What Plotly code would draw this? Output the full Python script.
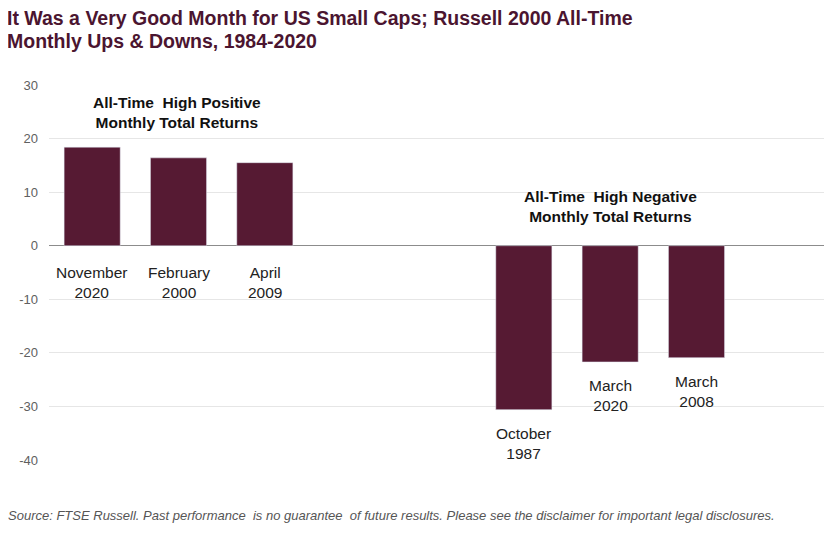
import plotly.graph_objects as go

categories = ["November<br>2020", "February<br>2000", "April<br>2009", " ", "  ",
              "October<br>1987", "March<br>2020", "March<br>2008", "   "]
returns = [18.4, 16.4, 15.5, None, None, -30.6, -21.7, -20.9, None]
y_ticks = [-40, -30, -20, -10, 0, 10, 20, 30]
title_lines = ["It Was a Very Good Month for US Small Caps; Russell 2000 All-Time",
               "Monthly Ups &amp; Downs, 1984-2020"]
source_note = "Source: FTSE Russell. Past performance  is no guarantee  of future results. Please see the disclaimer for important legal disclosures."

BAR = "#561a33"
TITLE = "#4b1530"
FONT = "Liberation Sans, Arial, sans-serif"

fig = go.Figure()
fig.add_trace(go.Bar(x=categories, y=returns, marker_color=BAR, width=0.65,
                     hoverinfo="skip"))

annotations = []
for c, v in zip(categories, returns):
    if v is None:
        continue
    yv = 0 if v > 0 else v
    annotations.append(dict(x=c, y=yv, xref="x", yref="y", text=c, showarrow=False,
                            yanchor="top", yshift=-16 if v > 0 else -13,
                            font=dict(family=FONT, size=15.5, color="#222222")))

annotations.append(dict(x=0.98, y=24.8, xref="x", yref="y",
                        text="<b>All-Time  High Positive<br>Monthly Total Returns</b>",
                        showarrow=False, font=dict(family=FONT, size=15.5, color="#111111")))
annotations.append(dict(x=6.0, y=7.3, xref="x", yref="y",
                        text="<b>All-Time  High Negative<br>Monthly Total Returns</b>",
                        showarrow=False, font=dict(family=FONT, size=15.5, color="#111111")))
annotations.append(dict(x=-0.0553, y=-0.1467, xref="paper", yref="paper",
                        xanchor="left", yanchor="middle",
                        text="<i>" + source_note + "</i>",
                        showarrow=False, font=dict(family=FONT, size=13, color="#555555")))
for i, line in enumerate(title_lines):
    annotations.append(dict(x=-0.0553, y=(460 - (18 + 23 * i)) / 375, xref="paper", yref="paper",
                            xanchor="left", yanchor="middle", borderpad=0,
                            text="<b>" + line + "</b>", align="left", showarrow=False,
                            font=dict(family=FONT, size=19.5, color=TITLE)))

fig.update_layout(
    width=824, height=528,
    margin=dict(l=41, r=6, t=77, b=76),
    paper_bgcolor="white", plot_bgcolor="white",
    showlegend=False,
    annotations=annotations,
)
fig.update_xaxes(type="category", categoryorder="array", categoryarray=categories,
                 showticklabels=False, showgrid=False, zeroline=False, showline=False,
                 ticks="")
fig.update_yaxes(range=[-40, 30], tickvals=y_ticks, ticktext=[str(v) for v in y_ticks],
                 showgrid=True, gridcolor="#e6e6e6",
                 gridwidth=1, zeroline=True, zerolinecolor="#8c8c8c", zerolinewidth=1.2,
                 tickfont=dict(family=FONT, size=13, color="#606060"), ticks="",
                 ticklabelstandoff=10, showline=False)

fig.write_html("out.html")
